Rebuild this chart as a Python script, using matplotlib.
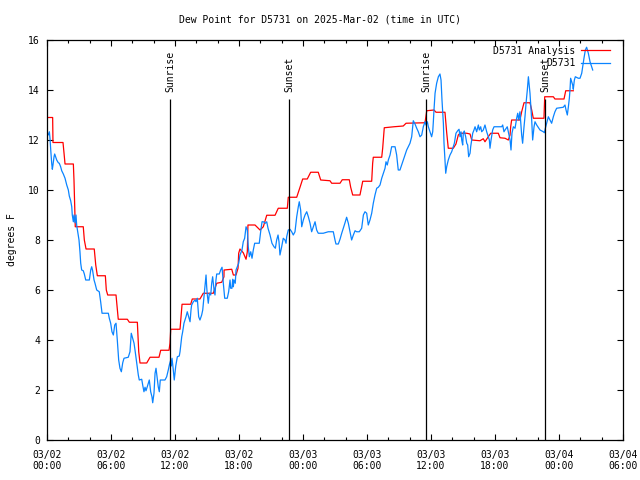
import matplotlib
matplotlib.use("Agg")
import matplotlib.pyplot as plt

plt.rcParams["font.family"] = ["DejaVu Sans Mono"]
plt.rcParams["font.size"] = 7

# hours since 2025-03-02 00:00 UTC
ana_hours = [0.0, 0.53, 0.56, 1.5, 1.59, 1.69, 2.47, 2.53, 2.65, 3.40, 3.5, 3.66, 4.43,
             4.57, 4.72, 5.47, 5.56, 5.69, 6.47, 6.68, 7.53, 7.72, 8.47, 8.6, 8.72, 9.35,
             9.66, 10.5, 10.66, 11.44, 11.53, 11.6, 12.47, 12.66, 13.47, 13.62, 14.34,
             14.65, 15.59, 15.91, 16.38, 16.59, 16.6, 17.32, 17.47, 17.72, 17.91, 17.97,
             18.09, 18.4, 18.66, 18.78, 18.84, 19.5, 19.97, 20.28, 20.6, 21.38, 21.68,
             22.53, 22.62, 23.41, 23.72, 23.97, 24.4, 24.72, 25.43, 25.66, 26.53, 26.69,
             27.47, 27.68, 28.34, 28.47, 28.66, 29.34, 29.6, 30.44, 30.53, 30.59, 31.38,
             31.47, 31.62, 32.53, 33.4, 33.66, 35.44, 35.6, 36.28, 36.47, 37.31, 37.47,
             37.62, 38.09, 38.34, 38.56, 38.72, 39.35, 39.66, 39.82, 40.59, 40.9, 41.06,
             41.37, 41.6, 42.31, 42.47, 42.94, 43.25, 43.41, 43.47, 43.56, 44.34, 44.5,
             44.72, 45.28, 45.44, 45.59, 46.59, 46.66, 47.47, 47.62, 48.47, 48.63, 49.34]
ana_dewpt = [12.9, 12.9, 11.9, 11.9, 11.5, 11.04, 11.04, 10.4, 8.53, 8.53, 8.0, 7.64, 7.64,
             7.0, 6.57, 6.57, 6.0, 5.8, 5.8, 4.83, 4.83, 4.71, 4.71, 3.53, 3.08, 3.08,
             3.31, 3.31, 3.59, 3.59, 3.87, 4.43, 4.43, 5.43, 5.43, 5.64, 5.64,
             5.87, 5.87, 6.27, 6.31, 6.53, 6.8, 6.83, 6.6, 6.6, 6.87, 7.47,
             7.64, 7.49, 7.23, 7.53, 8.6, 8.6, 8.4, 8.53, 8.99, 8.99, 9.27,
             9.27, 9.71, 9.71, 10.11, 10.44, 10.44, 10.71, 10.71, 10.4, 10.37, 10.27,
             10.27, 10.41, 10.41, 10.11, 9.8, 9.8, 10.35, 10.35, 11.07, 11.31, 11.31,
             11.67, 12.49, 12.53, 12.56, 12.67, 12.69, 13.17, 13.2, 13.11, 13.11, 12.3,
             11.67, 11.67, 11.84, 12.2, 12.27, 12.27, 12.24, 12.0, 11.97, 12.05, 11.93,
             12.13, 12.27, 12.27, 12.09, 12.07, 12.0, 12.2, 12.53, 12.8, 12.8, 13.13,
             13.49, 13.49, 13.2, 12.87, 12.87, 13.73, 13.73, 13.64, 13.64, 13.97, 13.97]

obs_hours = [0.0, 0.03, 0.12, 0.22, 0.28, 0.35, 0.44, 0.5, 0.56, 0.66, 0.72, 0.82, 0.91,
             1.06, 1.15, 1.28, 1.38, 1.53, 1.69, 1.85, 2.0, 2.09, 2.22, 2.32, 2.37, 2.47,
             2.53, 2.63, 2.72, 2.78, 2.88, 3.0, 3.09, 3.16, 3.25, 3.4, 3.5, 3.63, 3.97,
             4.1, 4.19, 4.28, 4.41, 4.5, 4.66, 4.9, 5.03, 5.16, 5.75, 5.84, 5.97, 6.09,
             6.22, 6.35, 6.47, 6.59, 6.72, 6.84, 6.97, 7.1, 7.22, 7.62, 7.78, 7.9, 8.03,
             8.16, 8.25, 8.41, 8.56, 8.65, 8.88, 8.97, 9.09, 9.19, 9.28, 9.4, 9.59, 9.72,
             9.84, 9.91, 10.03, 10.13, 10.22, 10.34, 10.43, 10.53, 10.62, 11.06, 11.22,
             11.37, 11.47, 11.6, 11.65, 11.72, 11.84, 11.93, 12.07, 12.22, 12.4, 12.47,
             12.63, 12.72, 12.84, 13.03, 13.15, 13.28, 13.41, 13.5, 13.56, 13.72, 13.88,
             13.97, 14.09, 14.22, 14.34, 14.5, 14.6, 14.72, 14.81, 14.91, 14.97, 15.03,
             15.12, 15.22, 15.35, 15.44, 15.53, 15.66, 15.75, 15.84, 15.91, 16.15, 16.28,
             16.41, 16.53, 16.66, 16.9, 17.03, 17.16, 17.22, 17.34, 17.41, 17.47, 17.53,
             17.65, 17.72, 17.84, 17.97, 18.09, 18.22, 18.28, 18.4, 18.53, 18.66, 18.78,
             18.87, 18.97, 19.1, 19.22, 19.34, 19.47, 19.9, 20.03, 20.16, 20.28, 20.47,
             20.6, 20.72, 20.91, 21.09, 21.28, 21.41, 21.53, 21.66, 21.75, 21.84, 22.0,
             22.15, 22.31, 22.41, 22.47, 22.62, 22.78, 22.94, 23.09, 23.25, 23.41, 23.56,
             23.65, 23.78, 23.88, 24.03, 24.19, 24.35, 24.5, 24.66, 24.81, 24.97, 25.13,
             25.28, 25.43, 25.9, 26.37, 26.84, 27.0, 27.09, 27.31, 27.47, 27.63, 27.78,
             27.94, 28.09, 28.25, 28.41, 28.56, 28.72, 28.88, 29.03, 29.28, 29.5, 29.66,
             29.81, 29.97, 30.12, 30.28, 30.44, 30.59, 30.75, 30.91, 31.06, 31.22, 31.38,
             31.53, 31.69, 31.78, 31.9, 32.0, 32.16, 32.31, 32.63, 32.78, 32.93, 33.09,
             33.25, 33.4, 33.56, 33.72, 33.87, 34.03, 34.19, 34.34, 34.5, 34.66, 34.81,
             34.97, 35.13, 35.28, 35.44, 35.53, 35.66, 35.75, 35.91, 36.06, 36.16, 36.22,
             36.28, 36.38, 36.53, 36.69, 36.84, 36.94, 37.03, 37.16, 37.22, 37.31, 37.38,
             37.47, 37.62, 37.78, 37.94, 38.09, 38.19, 38.34, 38.5, 38.63, 38.72, 38.81,
             38.88, 38.97, 39.03, 39.12, 39.25, 39.35, 39.44, 39.53, 39.66, 39.72, 39.82,
             39.91, 40.03, 40.13, 40.28, 40.44, 40.53, 40.66, 40.75, 40.9, 41.06, 41.22,
             41.37, 41.47, 41.53, 41.63, 41.78, 41.91, 42.63, 42.72, 42.84, 42.94, 43.15,
             43.28, 43.41, 43.5, 43.59, 43.72, 43.88, 44.03, 44.13, 44.22, 44.34, 44.5,
             44.59, 44.72, 44.81, 44.91, 45.03, 45.13, 45.22, 45.28, 45.44, 45.53, 45.66,
             45.75, 45.91, 46.22, 46.53, 46.63, 46.72, 46.84, 47.0, 47.16, 47.31, 47.47,
             47.62, 47.78, 48.4, 48.56, 48.66, 48.78, 48.88, 48.97, 49.03, 49.09, 49.19,
             49.28, 49.34, 49.44, 49.53, 49.81, 49.97, 50.13, 50.22, 50.34, 50.47, 50.59,
             50.75, 50.91, 51.06, 51.16]
obs_dewpt = [12.13, 12.27, 12.2, 12.33, 12.07, 11.6, 11.07, 10.83, 11.0, 11.33, 11.44, 11.31, 11.2,
             11.09, 11.07, 10.93, 10.77, 10.64, 10.47, 10.2, 10.0, 9.76, 9.57, 9.33, 9.0, 8.73,
             9.0, 8.69, 9.0, 8.6, 8.33, 8.0, 7.53, 7.07, 6.8, 6.77, 6.64, 6.4, 6.4,
             6.8, 6.93, 6.77, 6.4, 6.27, 6.0, 5.93, 5.53, 5.07, 5.07, 4.87, 4.67, 4.33,
             4.2, 4.6, 4.67, 4.0, 3.2, 2.87, 2.73, 3.09, 3.27, 3.31, 3.53, 4.27, 4.07,
             3.87, 3.6, 3.07, 2.6, 2.4, 2.43, 2.2, 1.93, 2.11, 1.97, 2.13, 2.4, 1.93,
             1.73, 1.49, 1.87, 2.67, 2.87, 2.43, 2.13, 1.93, 2.4, 2.4, 2.53,
             2.8, 3.0, 3.2, 2.96, 3.27, 2.8, 2.4, 2.96, 3.33, 3.36, 3.53,
             4.13, 4.33, 4.67, 4.93, 5.13, 4.93, 4.73, 5.2, 5.4, 5.53, 5.6,
             5.53, 5.67, 4.93, 4.8, 5.0, 5.2, 5.73, 6.16, 6.6, 6.13, 5.8,
             5.47, 5.87, 5.8, 6.27, 6.53, 6.0, 5.8, 6.4, 6.64, 6.64, 6.8,
             6.91, 6.27, 5.67, 5.67, 5.93, 6.4, 6.07, 6.07, 6.43, 6.13, 6.4,
             6.27, 6.8, 6.93, 7.07, 7.4, 7.53, 7.6, 7.93, 8.07, 8.53, 8.4,
             7.73, 7.33, 7.53, 7.27, 7.6, 7.87, 7.87, 8.33, 8.73, 8.73, 8.67,
             8.73, 8.47, 8.2, 7.87, 7.73, 7.67, 8.0, 8.2, 7.93, 7.4, 7.73,
             8.07, 8.0, 7.87, 8.13, 8.4, 8.43, 8.33, 8.2, 8.33, 8.93, 9.33,
             9.53, 9.2, 8.53, 8.8, 9.0, 9.13, 8.93, 8.67, 8.33, 8.53, 8.73,
             8.4, 8.27, 8.27, 8.33, 8.33, 8.0, 7.84, 7.84, 8.03, 8.27, 8.47,
             8.69, 8.91, 8.67, 8.33, 8.0, 8.2, 8.37, 8.33, 8.33, 8.47, 9.0,
             9.13, 9.07, 8.6, 8.8, 9.07, 9.47, 9.8, 10.07, 10.11, 10.2, 10.47,
             10.67, 10.87, 11.13, 11.0, 11.2, 11.4, 11.73, 11.73, 11.4, 10.8, 10.8,
             11.0, 11.2, 11.4, 11.6, 11.73, 11.87, 12.13, 12.77, 12.64, 12.47, 12.33,
             12.13, 12.2, 12.53, 12.73, 12.6, 12.73, 12.53, 12.33, 12.13, 12.33, 12.73,
             13.2, 13.87, 14.27, 14.53, 14.64, 14.4, 13.6, 12.67, 11.87, 11.2, 10.67,
             10.93, 11.2, 11.4, 11.53, 11.73, 11.87, 12.27, 12.37, 12.43, 12.13, 12.33,
             12.0, 11.8, 12.29, 12.36, 12.13, 11.87, 11.8, 11.33, 11.47, 11.73, 12.0,
             12.27, 12.4, 12.53, 12.33, 12.6, 12.4, 12.53, 12.33, 12.4, 12.6, 12.33,
             12.13, 12.0, 11.67, 12.0, 12.4, 12.53, 12.53, 12.6, 12.33, 12.4, 12.53,
             12.27, 12.0, 11.6, 12.27, 12.53, 12.47, 12.87, 13.07, 12.8, 13.13, 12.2,
             11.87, 12.53, 12.93, 13.47, 14.0, 14.53, 14.13, 13.87, 12.8, 12.0, 12.53,
             12.73, 12.6, 12.4, 12.33, 12.29, 12.47, 12.67, 12.93, 12.8, 12.67, 12.93,
             13.13, 13.27, 13.31, 13.4, 13.2, 13.0, 13.33, 13.67, 14.0, 14.47, 14.33,
             14.2, 14.03, 14.4, 14.53, 14.47, 14.47, 14.67, 14.93, 15.27, 15.6, 15.71,
             15.47, 15.13, 14.93, 14.8]

sun_hours = [11.53, 22.69, 35.53, 46.69]
sun_labels = ["Sunrise", "Sunset", "Sunrise", "Sunset"]

tick_hours = [0, 6, 12, 18, 24, 30, 36, 42, 48, 54]
tick_labels = ["03/02\n00:00", "03/02\n06:00", "03/02\n12:00", "03/02\n18:00",
               "03/03\n00:00", "03/03\n06:00", "03/03\n12:00", "03/03\n18:00",
               "03/04\n00:00", "03/04\n06:00"]

fig = plt.figure(figsize=(6.4, 4.8), dpi=100)
ax = fig.add_axes([47 / 640, 40 / 480, 576 / 640, 400 / 480])

ax.plot(ana_hours, ana_dewpt, color="#ff0000", lw=0.9, label="D5731 Analysis")
ax.plot(obs_hours, obs_dewpt, color="#0a84ff", lw=0.9, label="D5731")

for h, lab in zip(sun_hours, sun_labels):
    ax.vlines(h, 0, 13.62, color="black", lw=0.9)
    ax.text(h, 13.9, lab, rotation=90, ha="center", va="bottom")

ax.set_xlim(0, 54)
ax.set_ylim(0, 16)
ax.set_xticks(tick_hours)
ax.set_xticklabels(tick_labels)
ax.set_xticks(range(0, 55, 2), minor=True)
ax.set_yticks(range(0, 17, 2))
ax.tick_params(which="both", direction="in", top=True, right=True, width=0.8)
ax.tick_params(which="major", length=4.5)
ax.tick_params(which="minor", length=2.5)
ax.tick_params(axis="x", pad=7)
ax.tick_params(axis="y", pad=5)
for s in ax.spines.values():
    s.set_linewidth(0.9)

ax.legend(loc="upper right", bbox_to_anchor=(0.988, 1.0), frameon=False,
          markerfirst=False, handlelength=3.0, handletextpad=0.6,
          borderaxespad=0.2, labelspacing=0.25)

fig.text(0.5, 1 - 19 / 480, "Dew Point for D5731 on 2025-Mar-02 (time in UTC)",
         ha="center", va="center")
fig.text(12 / 640, 0.5, "degrees F", rotation=90, ha="center", va="center")

fig.savefig("out.png", dpi=100)
